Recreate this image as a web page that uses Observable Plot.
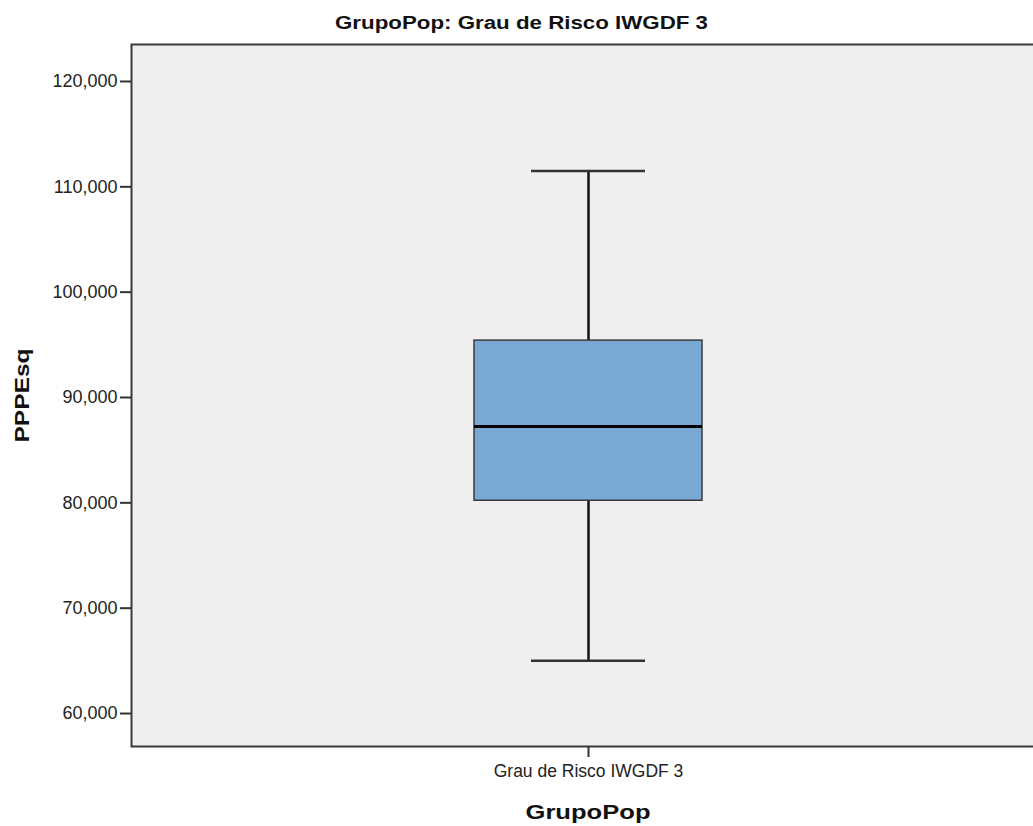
<!DOCTYPE html>
<html>
<head>
<meta charset="utf-8">
<script src="https://cdn.jsdelivr.net/npm/d3@7"></script>
<script src="https://cdn.jsdelivr.net/npm/@observablehq/plot@0.6"></script>
<style>
  html, body { margin: 0; padding: 0; background: #fff; overflow: hidden; width: 1033px; height: 826px; }
  #title { display: block; }
  #chart { width: 1044px; }
  #chart svg { display: block; max-width: none !important; font-family: "Liberation Sans", Arial, sans-serif; }
  g[aria-label="y-axis tick label"] text { font-size: 18px; fill: #222; }
  g[aria-label="x-axis tick label"] text { font-size: 17.5px; fill: #222; }
  g[aria-label="x-axis label"] text, g[aria-label="y-axis label"] text { font-size: 20px; font-weight: bold; fill: #111; }
</style>
</head>
<body>
<svg id="title" width="1033" height="36">
  <text x="521.5" y="29" text-anchor="middle" font-family="Liberation Sans, Arial, sans-serif" font-weight="bold" font-size="17.5" fill="#111" textLength="373" lengthAdjust="spacingAndGlyphs">GrupoPop: Grau de Risco IWGDF 3</text>
</svg>
<div id="chart"></div>
<script>
// Data (PPPEsq by GrupoPop)
const groups = ["Grau de Risco IWGDF 3"];
const whiskerLow = [65.0];
const q1 = [80.2];
const median = [87.25];
const q3 = [95.4];
const whiskerHigh = [111.5];
const yTicks = [60, 70, 80, 90, 100, 110, 120];

const data = groups.map((g, i) => ({
  group: g, low: whiskerLow[i], q1: q1[i], median: median[i], q3: q3[i], high: whiskerHigh[i]
}));

const fmt = d => d.toFixed(3).replace(".", ",");

const plot = Plot.plot({
  width: 1044,
  height: 790,
  marginTop: 8,
  marginBottom: 80,
  marginLeft: 131,
  marginRight: 0,
  x: { type: "band", domain: groups, padding: 0.6 },
  y: { domain: [56.87, 123.51] },
  marks: [
    Plot.frame({ fill: "#efefef", stroke: "none" }),
    Plot.ruleX(data, { x: "group", y1: "q3", y2: "high", stroke: "#111", strokeWidth: 2.5 }),
    Plot.ruleX(data, { x: "group", y1: "low", y2: "q1", stroke: "#111", strokeWidth: 2.5 }),
    Plot.tickY(data, { x: "group", y: "high", stroke: "#333", strokeWidth: 2.5, insetLeft: 57, insetRight: 57 }),
    Plot.tickY(data, { x: "group", y: "low", stroke: "#333", strokeWidth: 2.5, insetLeft: 57, insetRight: 57 }),
    Plot.barY(data, { x: "group", y1: "q1", y2: "q3", fill: "#79a8d5", stroke: "#3a3a3a", strokeWidth: 1.5 }),
    Plot.tickY(data, { x: "group", y: "median", stroke: "#000", strokeWidth: 3 }),
    Plot.frame({ stroke: "#3a3a3a", strokeWidth: 2 }),
    Plot.axisY({ ticks: yTicks, tickFormat: fmt, tickSize: 11, tickPadding: 3, stroke: "#333", strokeWidth: 2,
                 label: "PPPEsq", labelAnchor: "center", labelArrow: "none", labelOffset: 117 }),
    Plot.axisX({ tickSize: 11, tickPadding: 7, stroke: "#333", strokeWidth: 2,
                 label: "GrupoPop", labelAnchor: "center", labelArrow: "none", labelOffset: 72 })
  ]
});
document.getElementById("chart").appendChild(plot);

// stretch axis titles to the reference's widths
const yl = plot.querySelector('g[aria-label="y-axis label"] text');
if (yl) { yl.setAttribute("textLength", 94); yl.setAttribute("lengthAdjust", "spacingAndGlyphs"); }
const xl = plot.querySelector('g[aria-label="x-axis label"] text');
if (xl) { xl.setAttribute("textLength", 125); xl.setAttribute("lengthAdjust", "spacingAndGlyphs"); }
</script>
</body>
</html>
